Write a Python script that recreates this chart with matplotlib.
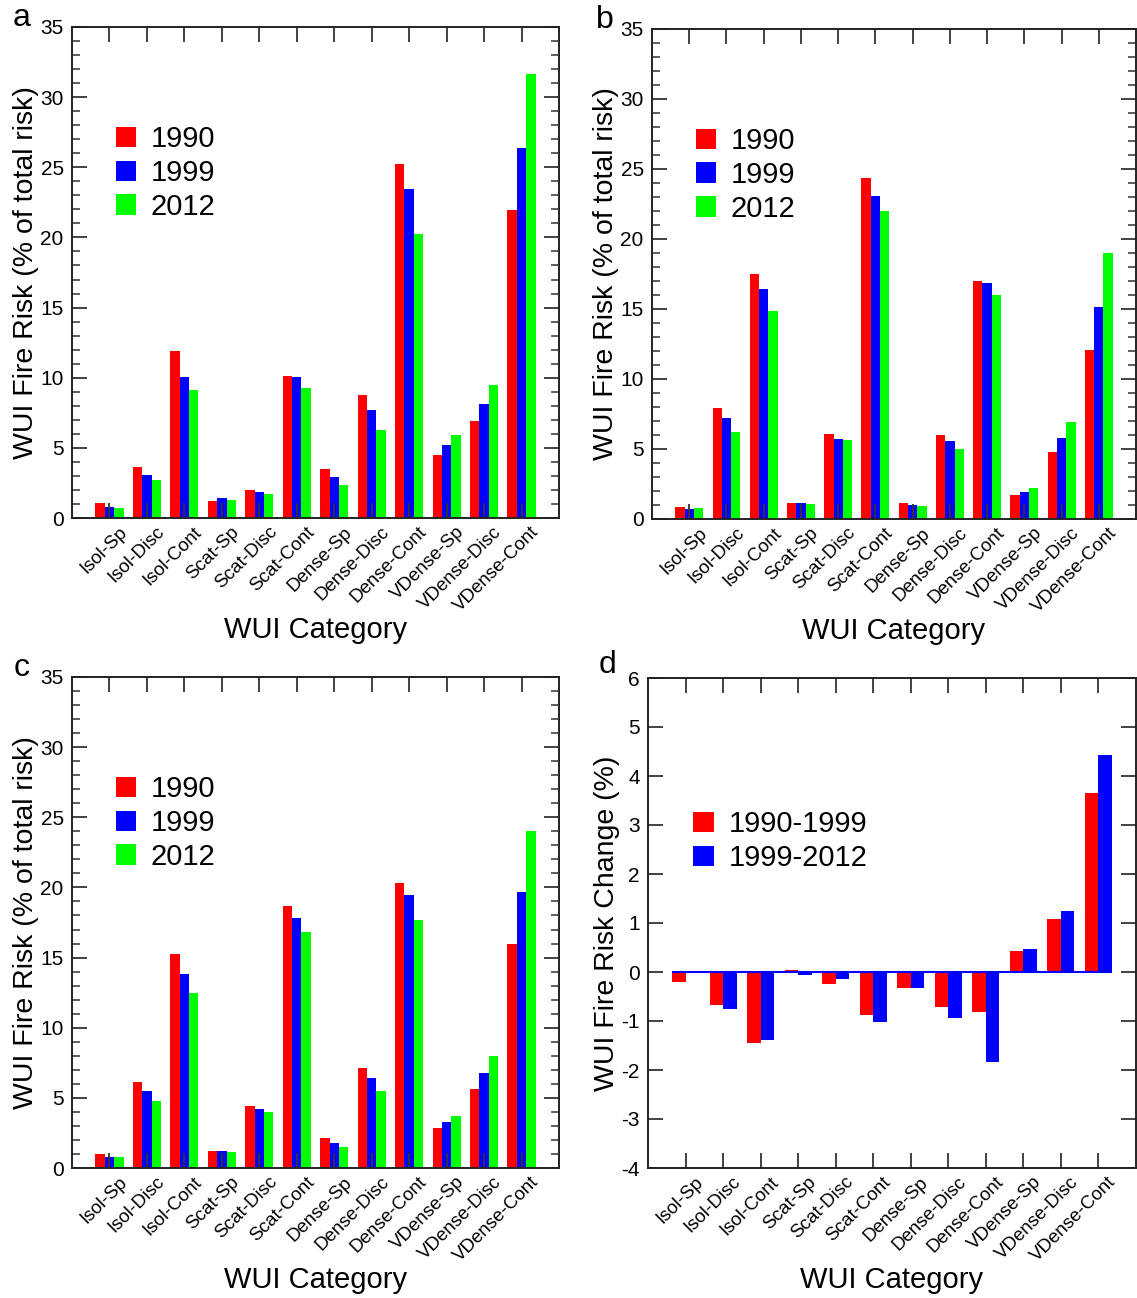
import matplotlib
matplotlib.use("Agg")
import matplotlib.pyplot as plt
import matplotlib.transforms as mtransforms
import numpy as np
from matplotlib.ticker import MultipleLocator

plt.rcParams['font.family'] = ['Liberation Sans', 'DejaVu Sans']
plt.rcParams['axes.unicode_minus'] = False

# ---------------------------------------------------------------
# Data
# ---------------------------------------------------------------
categories = ['Isol-Sp', 'Isol-Disc', 'Isol-Cont', 'Scat-Sp', 'Scat-Disc', 'Scat-Cont',
              'Dense-Sp', 'Dense-Disc', 'Dense-Cont', 'VDense-Sp', 'VDense-Disc', 'VDense-Cont']
years = ['1990', '1999', '2012']

# panel a
a_1990 = [1.10, 3.64, 11.93, 1.21, 1.98, 10.12, 3.52, 8.76, 25.24, 4.52, 6.90, 21.93]
a_1999 = [0.79, 3.07, 10.02, 1.40, 1.88, 10.02, 2.90, 7.69, 23.48, 5.19, 8.10, 26.36]
a_2012 = [0.71, 2.74, 9.10, 1.31, 1.74, 9.29, 2.33, 6.24, 20.26, 5.90, 9.48, 31.67]

# panel b
b_1990 = [0.86, 7.90, 17.50, 1.14, 6.05, 24.38, 1.12, 6.00, 16.98, 1.71, 4.81, 12.07]
b_1999 = [0.74, 7.19, 16.43, 1.14, 5.74, 23.10, 1.02, 5.57, 16.83, 1.95, 5.81, 15.14]
b_2012 = [0.79, 6.19, 14.86, 1.07, 5.62, 22.00, 0.90, 5.00, 16.00, 2.21, 6.93, 18.98]

# panel c
c_1990 = [1.00, 6.14, 15.29, 1.19, 4.45, 18.69, 2.12, 7.10, 20.31, 2.83, 5.64, 16.00]
c_1999 = [0.79, 5.52, 13.83, 1.24, 4.19, 17.83, 1.81, 6.43, 19.48, 3.26, 6.74, 19.64]
c_2012 = [0.79, 4.79, 12.48, 1.17, 4.02, 16.83, 1.48, 5.48, 17.67, 3.71, 7.98, 24.02]

# panel d (change in %)
periods = ['1990-1999', '1999-2012']
d_9099 = [-0.21, -0.67, -1.45, 0.05, -0.25, -0.87, -0.32, -0.72, -0.82, 0.42, 1.08, 3.66]
d_9912 = [0.02, -0.76, -1.38, -0.06, -0.15, -1.03, -0.33, -0.93, -1.83, 0.46, 1.25, 4.42]

colors = ['#ff0000', '#0000ff', '#00ff00']

fig = plt.figure(figsize=(11.37, 12.98), dpi=100)
W, H = 1137, 1298


def px_axes(left, top, right, bottom):
    return fig.add_axes([left / W, 1 - bottom / H, (right - left) / W, (bottom - top) / H])


def style_axes(ax, minor=True):
    for s in ax.spines.values():
        s.set_linewidth(1.4)
        s.set_color('#222222')
    ax.tick_params(axis='both', which='major', direction='in', length=11, width=1.3,
                   color='#333333', top=True, right=True)
    ax.tick_params(axis='y', which='major', labelsize=15, pad=6)
    if minor:
        ax.yaxis.set_minor_locator(MultipleLocator(1))
        ax.tick_params(axis='y', which='minor', direction='in', length=6, width=1.1,
                       color='#333333', right=True)
    ax.tick_params(axis='x', which='minor', bottom=False, top=False)
    x = np.arange(len(categories))
    ax.set_xticks(x)
    ax.set_xticklabels(categories, rotation=45, ha='right', va='top',
                       rotation_mode='anchor', fontsize=13.5)
    ax.tick_params(axis='x', pad=4)
    offset = mtransforms.ScaledTranslation(9 / 100, 0, fig.dpi_scale_trans)
    for lab in ax.get_xticklabels():
        lab.set_transform(lab.get_transform() + offset)
    ax.set_xlim(-1, 12)
    ax.set_xlabel('WUI Category', fontsize=21)
    ax.xaxis.set_label_coords(0.5, -0.200)


def risk_panel(ax, s1990, s1999, s2012, letter, lx):
    x = np.arange(len(categories))
    w = 0.25
    for i, (vals, lab) in enumerate(zip([s1990, s1999, s2012], years)):
        ax.bar(x + (i - 1) * w, vals, w, color=colors[i], label=lab, linewidth=0)
    ax.set_ylim(0, 35)
    ax.yaxis.set_major_locator(MultipleLocator(5))
    style_axes(ax)
    ax.set_ylabel('WUI Fire Risk (% of total risk)', fontsize=20.5)
    ax.yaxis.set_label_coords(-0.068, 0.5)
    ax.legend(loc='upper left', bbox_to_anchor=(0.09, 0.80), frameon=False, fontsize=21,
              handlelength=0.7, handleheight=0.7, handletextpad=0.5, labelspacing=0.2,
              borderpad=0, borderaxespad=0)
    ax.text(lx, 1.018, letter, transform=ax.transAxes, fontsize=23, ha='center', va='center')


ax_a = px_axes(72, 27, 559, 518)
risk_panel(ax_a, a_1990, a_1999, a_2012, 'a', -0.103)

ax_b = px_axes(652, 29, 1136, 519)
risk_panel(ax_b, b_1990, b_1999, b_2012, 'b', -0.097)

ax_c = px_axes(72, 677, 559, 1168)
risk_panel(ax_c, c_1990, c_1999, c_2012, 'c', -0.103)

# panel d
ax_d = px_axes(648, 678, 1136, 1168)
x = np.arange(len(categories))
wd = 0.36
ax_d.bar(x - wd / 2, d_9099, wd, color=colors[0], label=periods[0], linewidth=0)
ax_d.bar(x + wd / 2, d_9912, wd, color=colors[1], label=periods[1], linewidth=0)
ax_d.hlines(0, x[0] - wd, x[-1] + wd, color='#0000ff', linewidth=1.5)
ax_d.set_ylim(-4, 6)
ax_d.yaxis.set_major_locator(MultipleLocator(1))
style_axes(ax_d, minor=False)
ax_d.set_ylabel('WUI Fire Risk Change (%)', fontsize=20.5)
ax_d.yaxis.set_label_coords(-0.057, 0.5)
ax_d.legend(loc='upper left', bbox_to_anchor=(0.093, 0.73), frameon=False, fontsize=21,
            handlelength=0.7, handleheight=0.7, handletextpad=0.5, labelspacing=0.2,
            borderpad=0, borderaxespad=0)
ax_d.text(-0.084, 1.027, 'd', transform=ax_d.transAxes, fontsize=23, ha='center', va='center')

fig.savefig('out.png', dpi=100)
